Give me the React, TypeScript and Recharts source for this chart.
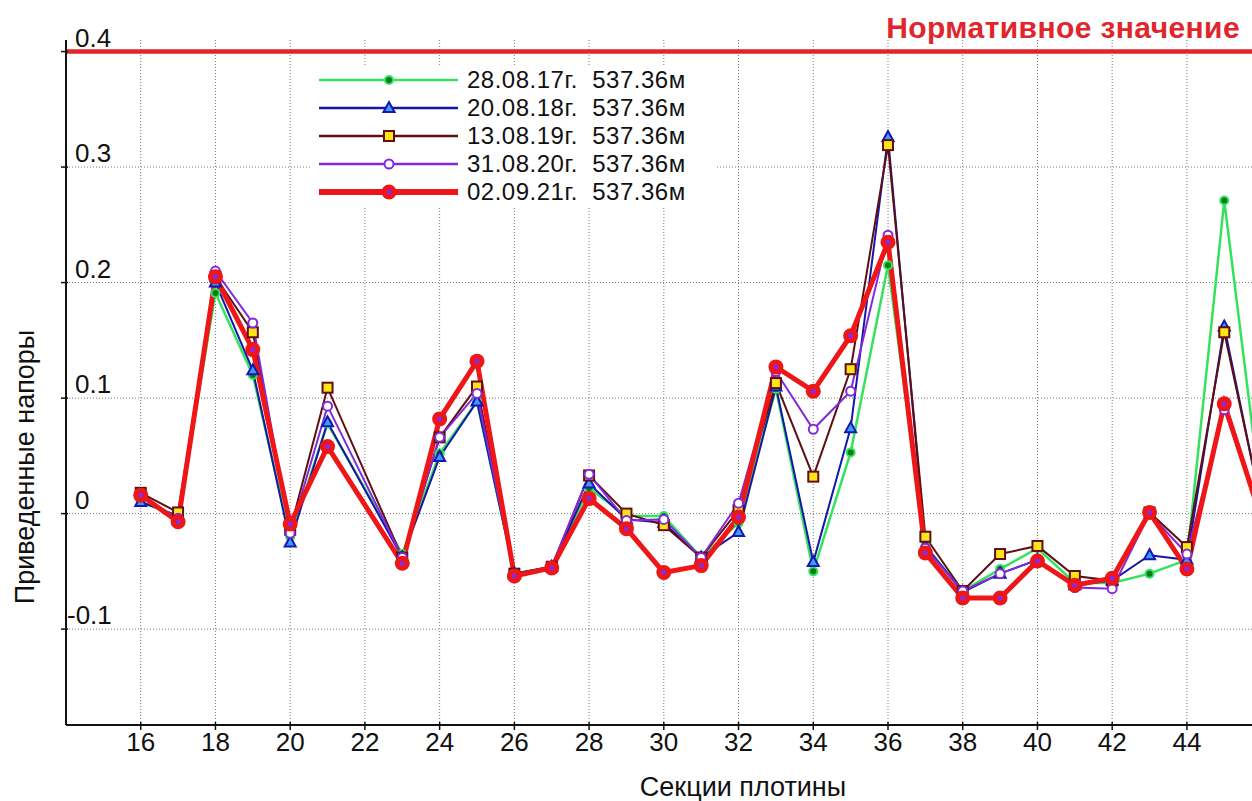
import { CartesianGrid, Legend, Line, LineChart, ReferenceLine, XAxis, YAxis } from "recharts";

// dam sections (section 22 has no reading)
const sections = [16, 17, 18, 19, 20, 21, 23, 24, 25, 26, 27, 28, 29, 30, 31, 32, 33, 34, 35, 36, 37, 38, 39, 40, 41, 42, 43, 44, 45, 46];

const head2017 = [0.010, -0.002, 0.191, 0.120, -0.020, 0.078, -0.035, 0.052, 0.097, -0.052, -0.046, 0.022, -0.002, -0.002, -0.038, -0.008, 0.108, -0.050, 0.053, 0.215, -0.028, -0.067, -0.048, -0.030, -0.060, -0.060, -0.052, -0.040, 0.271, 0.010];
const head2018 = [0.010, -0.002, 0.200, 0.124, -0.025, 0.079, -0.038, 0.049, 0.097, -0.052, -0.046, 0.026, -0.005, -0.008, -0.038, -0.016, 0.110, -0.042, 0.074, 0.326, -0.028, -0.068, -0.052, -0.040, -0.062, -0.058, -0.036, -0.040, 0.162, 0.005];
const head2019 = [0.018, 0.001, 0.205, 0.157, -0.014, 0.109, -0.038, 0.066, 0.110, -0.052, -0.046, 0.033, 0.000, -0.010, -0.038, 0.003, 0.113, 0.032, 0.125, 0.319, -0.020, -0.067, -0.035, -0.028, -0.054, -0.058, 0.001, -0.029, 0.157, 0.006];
const head2020 = [0.015, -0.004, 0.210, 0.165, -0.017, 0.093, -0.038, 0.066, 0.104, -0.053, -0.046, 0.034, -0.006, -0.005, -0.038, 0.009, 0.123, 0.073, 0.106, 0.241, -0.030, -0.067, -0.052, -0.040, -0.064, -0.065, 0.000, -0.035, 0.090, -0.002];
const head2021 = [0.016, -0.007, 0.205, 0.142, -0.009, 0.058, -0.043, 0.082, 0.132, -0.054, -0.047, 0.013, -0.013, -0.051, -0.045, -0.003, 0.127, 0.106, 0.154, 0.235, -0.034, -0.073, -0.073, -0.041, -0.062, -0.056, 0.001, -0.048, 0.095, -0.005];

const seriesLabels = [
  "28.08.17г.  537.36м",
  "20.08.18г.  537.36м",
  "13.08.19г.  537.36м",
  "31.08.20г.  537.36м",
  "02.09.21г.  537.36м",
];

const xTicks = [16, 18, 20, 22, 24, 26, 28, 30, 32, 34, 36, 38, 40, 42, 44];
const yTicks = [-0.1, 0, 0.1, 0.2, 0.3, 0.4];
const normValue = 0.4;

const data = sections.map((s, i) => ({
  section: s,
  h17: head2017[i],
  h18: head2018[i],
  h19: head2019[i],
  h20: head2020[i],
  h21: head2021[i],
}));

type Kind = "green" | "blue" | "brown" | "purple" | "red";

const series: { key: string; kind: Kind; color: string; width: number }[] = [
  { key: "h17", kind: "green", color: "#35e25e", width: 2.5 },
  { key: "h18", kind: "blue", color: "#1616a8", width: 2 },
  { key: "h19", kind: "brown", color: "#5e0f12", width: 2 },
  { key: "h20", kind: "purple", color: "#8329dc", width: 2 },
  { key: "h21", kind: "red", color: "#ee1616", width: 5 },
];

const FONT = "'Liberation Sans', Arial, sans-serif";
const GRID = "#7a7a7a";

function Marker({ kind, cx, cy }: { kind: Kind; cx: number; cy: number }) {
  switch (kind) {
    case "green":
      return (
        <g>
          <circle cx={cx} cy={cy} r={5} fill="#35e25e" />
          <circle cx={cx} cy={cy} r={3} fill="#0a7a1a" />
        </g>
      );
    case "blue":
      return (
        <polygon
          points={`${cx},${cy - 6} ${cx - 5.5},${cy + 4} ${cx + 5.5},${cy + 4}`}
          fill="#3d9bff"
          stroke="#1616b0"
          strokeWidth={2}
        />
      );
    case "brown":
      return <rect x={cx - 5} y={cy - 5} width={10} height={10} fill="#ffe41a" stroke="#5e0f12" strokeWidth={2} />;
    case "purple":
      return <circle cx={cx} cy={cy} r={4.5} fill="#fff" stroke="#8329dc" strokeWidth={2} />;
    default:
      return (
        <g>
          <circle cx={cx} cy={cy} r={7.5} fill="#ee1616" />
          <circle cx={cx} cy={cy} r={2.5} fill="#8a2be2" />
        </g>
      );
  }
}

const XTick = ({ x, y, payload }: any) => (
  <g>
    <line x1={x} x2={x} y1={y - 3} y2={y + 5} stroke="#111" strokeWidth={1.5} />
    <text x={x} y={y + 26} textAnchor="middle" fontSize={26} fontFamily={FONT} fill="#111">
      {payload.value}
    </text>
  </g>
);

const YTick = ({ x, y, payload }: any) => (
  <g>
    <line x1={x - 5} x2={x + 2} y1={y} y2={y} stroke="#111" strokeWidth={1.5} />
    <text x={x + (payload.value < 0 ? 1 : 9)} y={y - 5} fontSize={26} fontFamily={FONT} fill="#111">
      {String(payload.value)}
    </text>
  </g>
);

const LegendBox = () => (
  <div style={{ background: "#fff", fontFamily: FONT }}>
    {series.map((s, i) => (
      <div key={s.key} style={{ display: "flex", alignItems: "center", height: 28 }}>
        <svg width={150} height={28}>
          <line x1={9} x2={148} y1={14} y2={14} stroke={s.color} strokeWidth={s.kind === "red" ? 6 : 2.5} />
          <Marker kind={s.kind} cx={79} cy={14} />
        </svg>
        <span
          style={{ marginLeft: 7, fontSize: 24, letterSpacing: 0.5, color: "#111", whiteSpace: "pre", lineHeight: "28px" }}
        >
          {seriesLabels[i]}
        </span>
      </div>
    ))}
  </div>
);

export default function App() {
  return (
    <div
      style={{
        position: "fixed",
        left: 0,
        top: 0,
        width: 1252,
        height: 801,
        overflow: "hidden",
        background: "#fff",
        fontFamily: FONT,
      }}
    >
      <LineChart width={1320} height={801} data={data} margin={{ top: 40, right: 21, bottom: 75, left: 65 }}>
        <CartesianGrid stroke={GRID} strokeDasharray="1 2" horizontal={false} />
        {/* horizontal grid only at the labelled values */}
        {yTicks.map((t) => (
          <ReferenceLine key={`g${t}`} y={t} stroke={GRID} strokeDasharray="1 2" />
        ))}
        <XAxis
          type="number"
          dataKey="section"
          domain={[14, 47]}
          ticks={xTicks}
          allowDataOverflow
          height={1}
          tickSize={0}
          tickMargin={0}
          axisLine={{ stroke: "#111", strokeWidth: 2 }}
          tickLine={false}
          tick={<XTick />}
        />
        <YAxis
          type="number"
          domain={[-0.183, 0.41]}
          ticks={yTicks}
          allowDataOverflow
          width={1}
          tickSize={0}
          tickMargin={0}
          axisLine={{ stroke: "#111", strokeWidth: 2 }}
          tickLine={false}
          tick={<YTick />}
        />
        <ReferenceLine y={normValue} stroke="#e0262c" strokeWidth={4.5} />
        {series.map((s) => (
          <Line
            key={s.key}
            type="linear"
            dataKey={s.key}
            stroke={s.color}
            strokeWidth={s.width}
            isAnimationActive={false}
            activeDot={false}
            dot={(p: any) => <Marker key={`${s.key}-${p.index}`} kind={s.kind} cx={p.cx} cy={p.cy} />}
          />
        ))}
        <Legend
          layout="vertical"
          align="center"
          verticalAlign="middle"
          content={<LegendBox />}
          wrapperStyle={{ left: 310, top: 66, width: 405, height: 142 }}
        />
      </LineChart>
      <div
        style={{
          position: "absolute",
          right: 12,
          top: 10,
          fontSize: 30,
          letterSpacing: 0.4,
          fontWeight: "bold",
          color: "#e0262c",
          whiteSpace: "nowrap",
          lineHeight: "36px",
        }}
      >
        Нормативное значение
      </div>
      <div
        style={{
          position: "absolute",
          left: 25,
          top: 467,
          fontSize: 27,
          color: "#111",
          whiteSpace: "nowrap",
          transform: "translate(-50%, -50%) rotate(-90deg)",
        }}
      >
        Приведенные напоры
      </div>
      <div
        style={{
          position: "absolute",
          left: 743,
          top: 787,
          fontSize: 27,
          color: "#111",
          whiteSpace: "nowrap",
          transform: "translate(-50%, -50%)",
        }}
      >
        Секции плотины
      </div>
    </div>
  );
}
